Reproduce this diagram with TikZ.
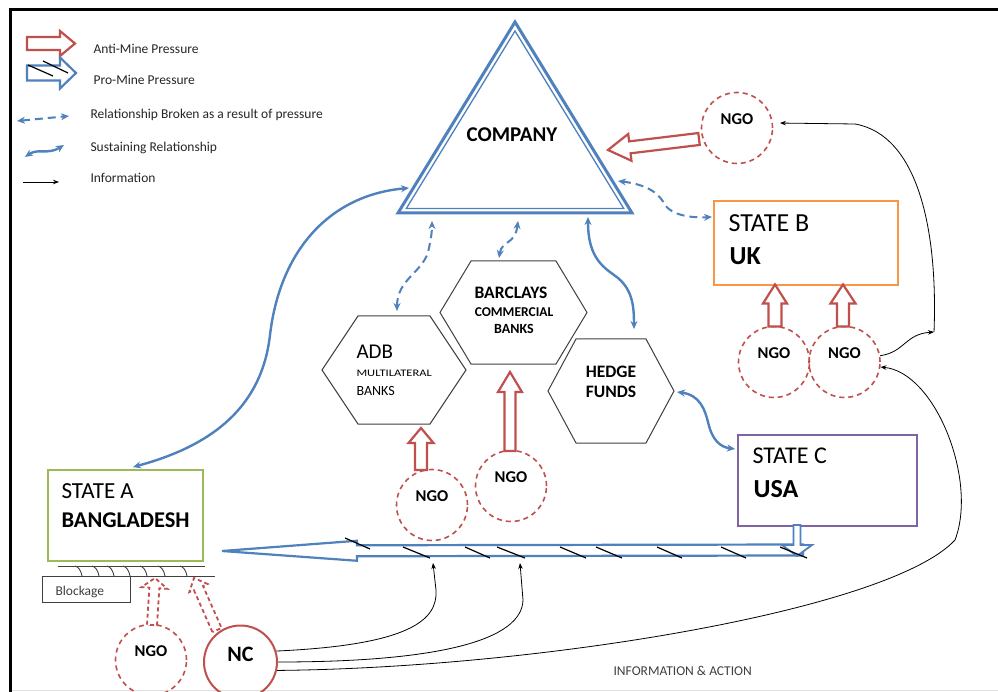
\documentclass[tikz,border=0pt]{standalone}
\usepackage{fontspec}
\usepackage{graphicx}
\setmainfont{Carlito}
\usetikzlibrary{arrows.meta,calc}

\definecolor{oblue}{HTML}{4F81BD}
\definecolor{ored}{HTML}{C0504D}
\definecolor{ogreen}{HTML}{9BBB59}
\definecolor{oorange}{HTML}{F79646}
\definecolor{opurple}{HTML}{8064A2}
\definecolor{ogray}{HTML}{404040}
\definecolor{otext}{HTML}{262626}

% hollow block arrow: [style]{start}{end}{shaft half width}{head half width}{head length}
\newcommand{\blockarrow}[6][]{%
  \draw[#1] ($(#2)!#4!90:(#3)$)
    -- ($(#3)!#6!(#2)!#4!-90:(#2)$)
    -- ($(#3)!#6!(#2)!#5!-90:(#2)$)
    -- (#3)
    -- ($(#3)!#6!(#2)!#5!90:(#2)$)
    -- ($(#3)!#6!(#2)!#4!90:(#2)$)
    -- ($(#2)!#4!-90:(#3)$) -- cycle;}

% stretched hexagon: {name}{cx}{cy}{half width}{half height}{corner inset}
\newcommand{\hexa}[6]{%
  \draw[hexline] (#2-#4,#3) -- (#2-#4+#6,#3-#5) -- (#2+#4-#6,#3-#5)
    -- (#2+#4,#3) -- (#2+#4-#6,#3+#5) -- (#2-#4+#6,#3+#5) -- cycle;
  \coordinate (#1) at (#2,#3);}

\tikzset{
  tipb/.tip={Stealth[length=8pt,width=7pt]},
  tipi/.tip={Stealth[length=6pt,width=4.5pt]},
  sustain/.style={oblue, line width=2.4pt, tipb-tipb},
  broken/.style={oblue, line width=2pt, dash pattern=on 8pt off 5pt, tipb-tipb},
  info/.style={black, line width=0.8pt, -tipi},
  anti/.style={ored, line width=2.2pt, fill=white, line join=miter},
  antidash/.style={ored, line width=1.8pt, fill=white, dash pattern=on 4pt off 3pt},
  pro/.style={oblue, line width=2.2pt, fill=white, line join=miter},
  slash/.style={black, line width=1.2pt},
  hexline/.style={ogray, line width=1pt, line join=miter},
  ngotxt/.style={font=\bfseries\fontsize{16.5}{18}\selectfont, yshift=9pt},
  ngo/.style={circle, draw=ored, line width=1.6pt, dash pattern=on 5pt off 4pt,
    minimum size=71pt, inner sep=0pt, label={[ngotxt]center:NGO}},
  ncnode/.style={circle, draw=ored, line width=2pt, minimum size=73pt, inner sep=0pt,
    label={[font=\bfseries\fontsize{22}{24}\selectfont, yshift=8pt]center:NC}},
  statebox/.style={draw, line width=2.2pt, anchor=north west, inner sep=0pt},
  legtxt/.style={anchor=base west, text=otext, font=\fontsize{13.5}{15}\selectfont},
  lbl/.style={anchor=base west},
}

\begin{document}
\begin{tikzpicture}[x=1pt,y=-1pt]
\useasboundingbox (0,0) rectangle (998,692);
\fill[white] (0,0) rectangle (998,692);

% frame
\draw[line width=2.8pt] (10.5,692) -- (10.5,9.5) -- (998,9.5);
\draw[black!12, line width=1pt] (12,690) -- (998,690);

% ---------------- legend ----------------
\coordinate (lgA1) at (27,43.5); \coordinate (lgA2) at (75,43.5);
\blockarrow[anti]{lgA1}{lgA2}{6.5pt}{12.5pt}{15pt}
\coordinate (lgP1) at (27,73); \coordinate (lgP2) at (76,73);
\blockarrow[pro]{lgP1}{lgP2}{7.5pt}{15.5pt}{16pt}
\draw[slash] (28,65) -- (53,76);
\draw[slash] (43,61) -- (68,73);
\coordinate (lgB1) at (17,121); \coordinate (lgB2) at (69,116);
\draw[broken] (lgB1) -- (lgB2);
\coordinate (lgS1) at (25,157); \coordinate (lgS2) at (64,145);
\draw[sustain] (lgS1) .. controls (38,148) and (48,155) .. (lgS2);
\coordinate (lgI1) at (23,182); \coordinate (lgI2) at (59,182);
\draw[info] (lgI1) -- (lgI2);

\node[legtxt] (lgT1) at (90,54) {Anti-Mine Pressure};
\node[legtxt] (lgT2) at (90,85) {Pro-Mine Pressure};
\node[legtxt] (lgT3) at (87,119) {Relationship Broken as a result of pressure};
\node[legtxt] (lgT4) at (87,152) {Sustaining Relationship};
\node[legtxt] (lgT5) at (87,183) {Information};

% ---------------- company ----------------
\coordinate (tTop) at (515,22);
\coordinate (tLeft) at (398,213);
\coordinate (tRight) at (632,213);
\draw[oblue, line width=3pt, line join=miter] (tTop) -- (tRight) -- (tLeft) -- cycle;
\draw[oblue, line width=1.3pt, line join=miter] (515,31) -- (623.7,208.5) -- (406.3,208.5) -- cycle;
\node[anchor=base, font=\bfseries\fontsize{21}{24}\selectfont] (company) at (512,142) {COMPANY};

% ---------------- banks ----------------
\hexa{adb}{394}{370}{72}{54}{36}
\hexa{barclays}{513.5}{312.5}{73.5}{51.5}{31}
\hexa{hedge}{611}{391}{63}{52}{28}

\node[lbl, font=\fontsize{21}{24}\selectfont] (adbT1) at (353,358) {ADB};
\node[lbl, font=\fontsize{10}{12}\selectfont] (adbT2) at (353,376) {\scalebox{1.25}[1]{MULTILATERAL}};
\node[lbl, font=\fontsize{14}{16}\selectfont] (adbT3) at (353,395) {BANKS};
\node[anchor=base, font=\bfseries\fontsize{17.5}{20}\selectfont] (barT1) at (511,299) {BARCLAYS};
\node[anchor=base, font=\bfseries\fontsize{13.5}{15}\selectfont] (barT2) at (514,317) {COMMERCIAL};
\node[anchor=base, font=\bfseries\fontsize{14}{16}\selectfont] (barT3) at (514,334) {BANKS};
\node[anchor=base, font=\bfseries\fontsize{17.5}{20}\selectfont] (hedT1) at (611,377) {HEDGE};
\node[anchor=base, font=\bfseries\fontsize{17.5}{20}\selectfont] (hedT2) at (611,397) {FUNDS};

% ---------------- states ----------------
\node[statebox, draw=ogreen, minimum width=155pt, minimum height=91pt] (stA) at (47,469) {};
\node[statebox, draw=oorange, minimum width=184pt, minimum height=84pt] (stB) at (713,200) {};
\node[statebox, draw=opurple, minimum width=179pt, minimum height=91pt] (stC) at (737,434) {};

\node[lbl, font=\fontsize{23}{26}\selectfont] (stAt1) at (58,498) {STATE A};
\node[lbl, font=\bfseries\fontsize{22.5}{26}\selectfont] (stAt2) at (58,527) {BANGLADESH};
\node[lbl, font=\fontsize{26}{30}\selectfont] (stBt1) at (725,232) {STATE B};
\node[lbl, font=\bfseries\fontsize{26}{30}\selectfont] (stBt2) at (726,265) {UK};
\node[lbl, font=\fontsize{24}{28}\selectfont] (stCt1) at (749,463) {STATE C};
\node[lbl, font=\bfseries\fontsize{26}{30}\selectfont] (stCt2) at (750,497) {USA};

% ---------------- pressure groups ----------------
\node[ngo] (ngoT) at (737,128) {};
\node[ngo] (ngoUL) at (774,362) {};
\node[ngo] (ngoUR) at (844.5,362) {};
\node[ngo] (ngoA) at (432,505) {};
\node[ngo] (ngoB) at (511,486) {};
\node[ngo] (ngoBL) at (151,660) {};
\node[ncnode] (nc) at (240.5,662) {};

% ---------------- blockage ----------------
\draw[ogray, line width=1pt] (58,566) -- (205,566);
\draw[ogray, line width=1pt] (42,576) -- (215,576);
\foreach \hx in {75,92,107,123,140,158,180}
  \draw[ogray, line width=0.9pt] (\hx,566) .. controls (\hx+4,567) and (\hx+6,571) .. (\hx+7,576);
\node[draw=ogray, line width=1pt, minimum width=88pt, minimum height=26pt, anchor=north west, inner sep=0pt] (blk) at (42,576) {};
\node[lbl, text=ogray, font=\fontsize{13.5}{15}\selectfont] (blkT) at (52,595) {Blockage};

% ---------------- pro-mine pressure from state C ----------------
\coordinate (proS) at (803,550); \coordinate (proE) at (222,551);
\blockarrow[pro]{proS}{proE}{5.5pt}{10pt}{135pt}
\coordinate (usaS) at (797,525); \coordinate (usaE) at (797,556);
\blockarrow[pro, line width=1.8pt]{usaS}{usaE}{3.5pt}{15pt}{11pt}
\foreach \sa/\sb/\sc/\sd in {345/538/370/549, 403/547/430/558, 465/547/490/558, 497/547/525/558,
    560/547/586/558, 596/547/622/558, 657/547/682/558, 721/547/746/558, 780/547/807/558}
  \draw[slash] (\sa,\sb) -- (\sc,\sd);
\coordinate (tip1) at (433,563);
\coordinate (tip2) at (520,563);

% ---------------- anti-mine pressure ----------------
\coordinate (aT1) at (699,139); \coordinate (aT2) at (608,150);
\blockarrow[anti]{aT1}{aT2}{6pt}{13.5pt}{22pt}
\coordinate (aU1s) at (775,326.5); \coordinate (aU1e) at (775,284.5);
\blockarrow[anti]{aU1s}{aU1e}{6.5pt}{12pt}{19pt}
\coordinate (aU2s) at (843,326.5); \coordinate (aU2e) at (843,284.5);
\blockarrow[anti]{aU2s}{aU2e}{6pt}{12.5pt}{19pt}
\coordinate (aAs) at (421,470); \coordinate (aAe) at (421,428);
\blockarrow[anti]{aAs}{aAe}{6pt}{12.5pt}{15pt}
\coordinate (aBs) at (510,451); \coordinate (aBe) at (510,372);
\blockarrow[anti]{aBs}{aBe}{5.5pt}{12pt}{20pt}
\coordinate (aLs) at (152,625); \coordinate (aLe) at (155,578);
\blockarrow[antidash]{aLs}{aLe}{5pt}{13pt}{10pt}
\coordinate (aNs) at (217,630); \coordinate (aNe) at (194,578);
\blockarrow[antidash]{aNs}{aNe}{5pt}{10pt}{11pt}

% ---------------- relationships ----------------
\coordinate (cL) at (409,188);
\coordinate (aN) at (133,467);
\draw[sustain] (aN) .. controls (215,445) and (262,405) .. (270,335)
  .. controls (280,250) and (330,195) .. (cL);
\coordinate (cB1) at (432,221); \coordinate (adbN) at (397,311);
\draw[broken] (adbN) .. controls (397,278) and (425,272) .. (429,248)
  .. controls (431,238) and (432,232) .. (cB1);
\coordinate (cB2) at (518,221); \coordinate (barN) at (499,258);
\draw[broken] (barN) .. controls (502,240) and (515,245) .. (cB2);
\coordinate (cB3) at (588,217); \coordinate (hedN) at (634,329);
\draw[sustain] (cB3) .. controls (588,260) and (605,268) .. (618,278)
  .. controls (632,290) and (634,305) .. (hedN);
\coordinate (cR) at (618,181); \coordinate (ukW) at (712,217);
\draw[broken] (cR) .. controls (650,185) and (660,195) .. (665,205)
  .. controls (672,215) and (690,218) .. (ukW);
\coordinate (hedE) at (677,392); \coordinate (usaW) at (735,449);
\draw[sustain] (hedE) .. controls (700,395) and (705,410) .. (708,422)
  .. controls (712,440) and (720,447) .. (usaW);

% ---------------- information flows ----------------
\coordinate (jn) at (934,332);
\draw[info] (ngoUR.10) .. controls (905,352) and (905,334) .. (jn);
\draw[info, shorten >=7pt] (jn) .. controls (938,230) and (918,135) .. (855,124) -- (ngoT.8);
\draw[info] (nc.17) .. controls (410,645) and (438,620) .. (436,590) -- (tip1);
\draw[info] (nc.0) .. controls (440,662) and (522,640) .. (523,600) -- (tip2);
\draw[info] (nc.-13) .. controls (540,668) and (890,610) .. (955,540)
  .. controls (978,480) and (935,372) .. (ngoUR.-8);
\node[lbl, text=ogray, font=\fontsize{13.5}{15}\selectfont] (infoT) at (610,675) {INFORMATION \& ACTION};
\end{tikzpicture}
\end{document}
